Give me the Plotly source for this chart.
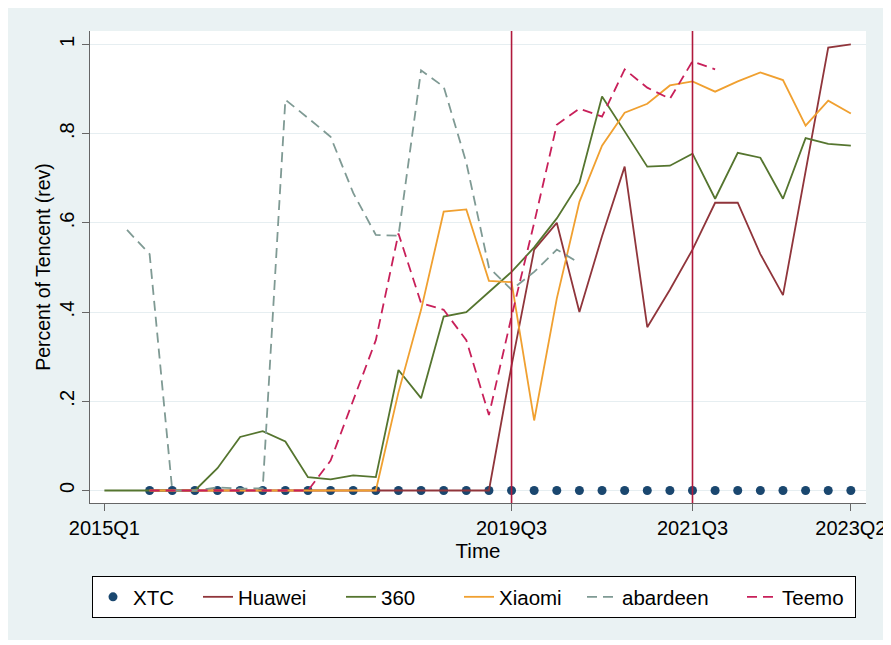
import plotly.graph_objects as go

# ---------------- data ----------------
quarters = [f"{y}Q{q}" for y in range(2015, 2024) for q in range(1, 5)][:34]  # 2015Q1 .. 2023Q2
tick_quarters = ["2015Q1", "2019Q3", "2021Q3", "2023Q2"]
event_quarters = ["2019Q3", "2021Q3"]

y_tickvals = [0, 0.2, 0.4, 0.6, 0.8, 1]
y_ticktext = ["0", ".2", ".4", ".6", ".8", "1"]

N = None
xtc = [N, N] + [0] * 32
huawei = [N, N] + [0] * 16 + [0.28, 0.54, 0.60, 0.40, 0.57, 0.726, 0.366, 0.45,
                              0.54, 0.645, 0.645, 0.53, 0.438, 0.72, 0.993, 1.0]
s360 = [0, 0, 0, 0, 0, 0.05, 0.12, 0.133, 0.11, 0.03, 0.025, 0.034, 0.03, 0.27,
        0.207, 0.39, 0.40, 0.445, 0.49, 0.545, 0.61, 0.69, 0.883, 0.805, 0.726,
        0.728, 0.755, 0.654, 0.757, 0.746, 0.654, 0.79, 0.777, 0.773]
xiaomi = [N, N] + [0] * 11 + [0.22, 0.405, 0.625, 0.63, 0.47, 0.467, 0.157, 0.43,
                              0.647, 0.773, 0.847, 0.867, 0.908, 0.917, 0.894,
                              0.917, 0.937, 0.92, 0.818, 0.874, 0.845]
abardeen = [N, 0.584, 0.53, 0, 0, 0.007, 0.004, 0.005, 0.876, 0.835, 0.793, 0.667,
            0.573, 0.571, 0.942, 0.905, 0.735, 0.50, 0.45, 0.49, 0.54, 0.51] + [N] * 12
teemo = [N, N] + [0] * 8 + [0.067, 0.20, 0.337, 0.576, 0.42, 0.405, 0.337, 0.169,
                            0.39, 0.60, 0.82, 0.856, 0.838, 0.944, 0.903, 0.878,
                            0.962, 0.944] + [N] * 6

# ---------------- styling ----------------
FONT = "Liberation Sans, Arial, Helvetica, sans-serif"
BG = "#eaf2f3"
AX = "#666666"

qidx = {q: i for i, q in enumerate(quarters)}

fig = go.Figure()

fig.add_trace(go.Scatter(x=quarters, y=xtc, name="XTC", mode="markers",
                         marker=dict(color="#1a476f", size=9), legendwidth=60))

line_series = [
    ("Huawei", huawei, "#90353b", "solid", 98),
    ("360", s360, "#55752f", "solid", 73),
    ("Xiaomi", xiaomi, "#f0a030", "solid", 78),
    ("abardeen", abardeen, "#7f9a94", "10px,6px", 115),
    ("Teemo", teemo, "#c8205a", "10px,6px", 68),
]
for name, vals, col, dash, lw in line_series:
    fig.add_trace(go.Scatter(x=quarters, y=vals, name=name, mode="lines",
                             line=dict(color=col, width=1.8, dash=dash),
                             connectgaps=False, legendwidth=lw))

for q in event_quarters:
    fig.add_vline(x=qidx[q], line=dict(color="#b0193c", width=1.6))

# figure sits 8px into the page (body margin)
W, H = 883, 632
L, R, T, B = 82, 25, 23, 137
pw, ph = W - L - R, H - T - B
def px_x(p): return (p - L) / pw
def px_y(p): return (H - B - p) / ph

fig.update_layout(
    width=W, height=H,
    margin=dict(l=L, r=R, t=T, b=B, autoexpand=False),
    paper_bgcolor=BG, plot_bgcolor="white",
    font=dict(family=FONT, size=20, color="black"),
    showlegend=True,
    legend=dict(orientation="h", x=px_x(84), xanchor="left",
                y=px_y(568), yanchor="top",
                bgcolor="white", bordercolor="black", borderwidth=1,
                font=dict(family=FONT, size=20.5, color="black"),
                itemwidth=30, tracegroupgap=0),
)

fig.update_xaxes(type="category", categoryorder="array", categoryarray=quarters,
                 range=[-0.636, 33.67], automargin=False,
                 tickmode="array", tickvals=tick_quarters, ticktext=tick_quarters,
                 showgrid=False, zeroline=False,
                 showline=True, linecolor=AX, linewidth=1.3,
                 ticks="outside", ticklen=7, tickcolor=AX, tickwidth=1.2,
                 tickfont=dict(size=20),
                 title=dict(text="Time", font=dict(size=20.5), standoff=4))

fig.update_yaxes(range=[-0.028, 1.030], automargin=False,
                 tickmode="array", tickvals=y_tickvals, ticktext=y_ticktext,
                 tickangle=-90,
                 showgrid=True, gridcolor="#e6eef1", gridwidth=1,
                 zeroline=False,
                 showline=True, linecolor=AX, linewidth=1.2,
                 ticks="outside", ticklen=7, tickcolor=AX, tickwidth=1.2,
                 tickfont=dict(size=20),
                 title=dict(text="Percent of Tencent (rev)", font=dict(size=19.5), standoff=0))

fig.write_html("out.html")
